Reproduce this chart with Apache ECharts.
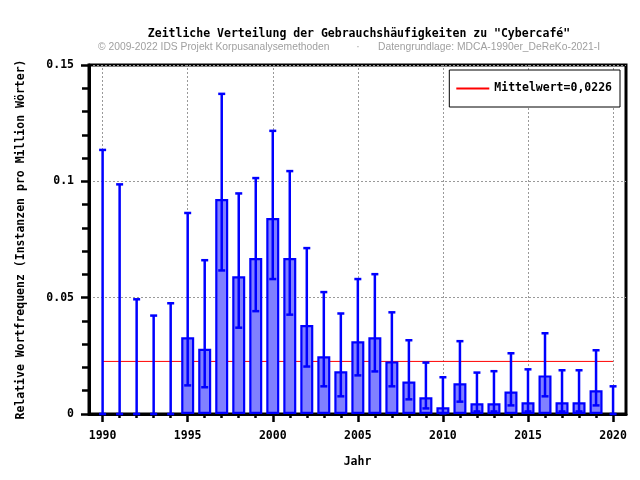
<!DOCTYPE html>
<html>
<head>
<meta charset="utf-8">
<script src="https://cdn.jsdelivr.net/npm/echarts@6/dist/echarts.min.js"></script>
<style>html,body{margin:0;padding:0;background:#fff}#c{width:640px;height:480px}</style>
</head>
<body>
<div id="c"></div>
<script>
// ---- data ----
const years      = [1990,1991,1992,1993,1994,1995,1996,1997,1998,1999,2000,2001,2002,2003,2004,2005,2006,2007,2008,2009,2010,2011,2012,2013,2014,2015,2016,2017,2018,2019,2020];
const values     = [0,0,0,0,0,0.0330,0.0280,0.0924,0.0592,0.0670,0.0842,0.0670,0.0382,0.0248,0.0184,0.0313,0.0330,0.0226,0.0140,0.0072,0.0029,0.0132,0.0046,0.0046,0.0097,0.0050,0.0166,0.0050,0.0050,0.0102,0];
const errLow     = [0,0,0,0,0,0.0123,0.0115,0.0617,0.0371,0.0442,0.0580,0.0427,0.0204,0.0119,0.0076,0.0166,0.0183,0.0119,0.0063,0.0024,0.0003,0.0053,0.0011,0.0011,0.0037,0.0011,0.0076,0.0011,0.0011,0.0037,0];
const errHigh    = [0.1135,0.0987,0.0493,0.0423,0.0476,0.0864,0.0661,0.1376,0.0948,0.1014,0.1217,0.1044,0.0713,0.0524,0.0432,0.0580,0.0601,0.0437,0.0317,0.0221,0.0158,0.0313,0.0178,0.0184,0.0261,0.0192,0.0347,0.0188,0.0188,0.0274,0.0119];
const meanValue  = 0.0226;
const meanLabel  = 'Mittelwert=0,0226';
const majorYears = [1990,1995,2000,2005,2010,2015,2020];
const titleText  = 'Zeitliche Verteilung der Gebrauchshäufigkeiten zu "Cybercafé"';
const subLeft    = '© 2009-2022 IDS Projekt Korpusanalysemethoden';
const subDot     = '·';
const subRight   = 'Datengrundlage: MDCA-1990er_DeReKo-2021-I';
const yAxisName  = 'Relative Wortfrequenz (Instanzen pro Million Wörter)';
const xAxisName  = 'Jahr';

// ---- chart ----
const mono = 'DejaVu Sans Mono';
const chart = echarts.init(document.getElementById('c'));
const barData = years.map((y,i)=>[y, values[i]]).filter(d=>d[1]>0);
const errData = years.map((y,i)=>[y, errLow[i], errHigh[i]]);
const subStyle = {fontFamily:'Liberation Sans', fontWeight:'normal', fontSize:10.3, color:'#a0a0a0'};

chart.setOption({
  animation:false,
  title:[
    {text:titleText, left:354, top:23, textAlign:'center', textStyle:{fontFamily:mono, fontWeight:'bold', fontSize:11.5, color:'#000'}},
    {text:subLeft, left:93, top:37, textStyle:subStyle},
    {text:subDot, left:353, top:37, textAlign:'center', textStyle:subStyle},
    {text:subRight, left:373, top:37, textStyle:subStyle}
  ],
  legend:{
    right:20, top:70, orient:'horizontal',
    backgroundColor:'#fff', borderColor:'#000', borderWidth:1,
    padding:[12.5,8,12.5,7], itemWidth:33, itemHeight:2, itemGap:5,
    textStyle:{fontFamily:mono, fontWeight:'bold', fontSize:11.5, color:'#000'},
    data:[{name:meanLabel, icon:'rect'}]
  },
  grid:{left:89, right:14, top:65, bottom:66, show:true, borderColor:'#000', borderWidth:3, backgroundColor:'transparent'},
  xAxis:[
    {type:'value', min:1989.2, max:2020.76, position:'bottom',
     name:xAxisName, nameLocation:'middle', nameGap:42,
     nameTextStyle:{fontFamily:mono, fontWeight:'bold', fontSize:11.5, color:'#000'},
     axisLine:{show:true, lineStyle:{color:'#000', width:3}},
     axisTick:{show:true, length:8, lineStyle:{color:'#000', width:2.5}, customValues:majorYears},
     axisLabel:{customValues:majorYears, margin:16, fontFamily:mono, fontWeight:'bold', fontSize:11.5, color:'#000', formatter:v=>String(v)},
     splitLine:{show:false}},
    {type:'value', min:1989.2, max:2020.76, position:'bottom',
     axisLine:{show:false},
     axisTick:{show:true, length:4, lineStyle:{color:'#000', width:2.5}, customValues:years},
     axisLabel:{show:false},
     splitLine:{show:false}}
  ],
  yAxis:{type:'value', min:0, max:0.15, interval:0.05,
    name:yAxisName, nameLocation:'middle', nameGap:62,
    nameTextStyle:{fontFamily:mono, fontWeight:'bold', fontSize:11.5, color:'#000'},
    axisLine:{show:true, lineStyle:{color:'#000', width:3}},
    axisTick:{show:true, length:8, lineStyle:{color:'#000', width:2.5}},
    minorTick:{show:true, splitNumber:5, length:7, lineStyle:{color:'#000', width:2.5}},
    axisLabel:{margin:15, fontFamily:mono, fontWeight:'bold', fontSize:11.5, color:'#000'},
    splitLine:{show:true, lineStyle:{color:'#999', type:[2,2], width:1}}
  },
  series:[
    {type:'bar', name:'Wert', xAxisIndex:0, data:barData, barWidth:13,
     itemStyle:{color:'#8080ff', borderColor:'#0000ff', borderWidth:2.2},
     z:3,
     markLine:{silent:true, symbol:'none', z:1, label:{show:false},
       lineStyle:{color:'#999', type:[2,2], width:1},
       data:majorYears.map(y=>({xAxis:y}))}
    },
    {type:'line', name:meanLabel, xAxisIndex:0, symbol:'none', showSymbol:false,
     data:[[years[0], meanValue],[years[years.length-1], meanValue]],
     lineStyle:{color:'#ff0000', width:1}, itemStyle:{color:'#ff0000'}, z:2},
    {type:'custom', name:'Fehler', xAxisIndex:0, data:errData, z:5,
     renderItem:function(params, api){
       const x = api.value(0);
       const lo = api.coord([x, api.value(1)]);
       const hi = api.coord([x, api.value(2)]);
       const w = 3.5;
       const st = {stroke:'#0000ff', lineWidth:2.5};
       return {type:'group', children:[
         {type:'line', shape:{x1:lo[0], y1:lo[1], x2:hi[0], y2:hi[1]}, style:st},
         {type:'line', shape:{x1:hi[0]-w, y1:hi[1], x2:hi[0]+w, y2:hi[1]}, style:st},
         {type:'line', shape:{x1:lo[0]-w, y1:lo[1], x2:lo[0]+w, y2:lo[1]}, style:st}
       ]};
     }}
  ]
});
</script>
</body>
</html>
